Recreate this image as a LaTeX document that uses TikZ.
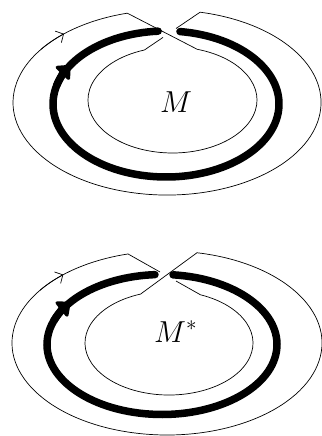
\documentclass[tikz,border=0pt]{standalone}
\usetikzlibrary{arrows.meta}
\begin{document}
\begin{tikzpicture}[x=1pt,y=-1pt,
  thinline/.style={line width=0.7pt, line join=round},
  thickline/.style={line width=7.5pt, line cap=round},
  thinarrow/.style={thinline,-{Straight Barb[length=6pt,width=13pt]}},
  thickarrow/.style={thickline,-{Triangle[length=13pt,width=22pt,round]}},
  lbl/.style={inner sep=0pt, anchor=base west, font=\fontsize{24}{30}\selectfont}
  ]
\path[use as bounding box] (0,0) rectangle (321,436);

% ---------- top figure ----------
\draw[thinline] (176,28.5) -- (200.1,12.2)
  arc[start angle=-77.6,end angle=255.05,x radius=154,y radius=92.5]
  -- (197.2,49.3)
  arc[start angle=-73,end angle=250.6,x radius=84.5,y radius=53]
  -- (163,37.4);
\draw[thinarrow] (40.88,49.48) arc[start angle=215,end angle=228,x radius=154,y radius=92.5];
\draw[thickline] (179.97,31.56) arc[start angle=-82.9,end angle=266,x radius=113,y radius=73];
\draw[thickarrow] (56.85,85.11) arc[start angle=195,end angle=212,x radius=113,y radius=73];
\node[lbl] (m) at (160,112) {\scalebox{1.22}{$M$}};

% ---------- bottom figure ----------
\draw[thinline] (176,281.0) -- (200.47,294.79)
  arc[start angle=-68,end angle=250.2,x radius=84,y radius=52]
  -- (197,252.74)
  arc[start angle=-78.84,end angle=255.43,x radius=155,y radius=92]
  -- (160,272.0);
\draw[thinarrow] (40.02,290.23) arc[start angle=215,end angle=228,x radius=155,y radius=92];
\draw[thickline] (173.02,274.82) arc[start angle=-84.5,end angle=266.5,x radius=115,y radius=70];
\draw[thickarrow] (53.94,320.56) arc[start angle=200,end angle=217,x radius=115,y radius=70];
\node[lbl] (ms) at (154,342) {\scalebox{1.22}{$M^*$}};
\end{tikzpicture}
\end{document}
